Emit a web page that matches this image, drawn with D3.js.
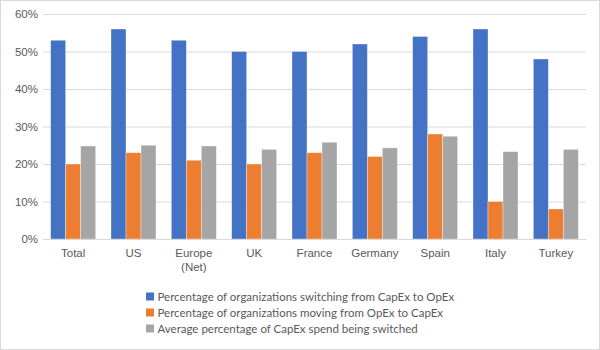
<!DOCTYPE html>
<html><head><meta charset="utf-8">
<script src="https://cdn.jsdelivr.net/npm/d3@7"></script>
<style>body{margin:0;background:#fff;}svg{display:block;font-family:Lato,"Open Sans",sans-serif;}</style>
</head><body><svg id="c" width="600" height="350"></svg>
<script>
const categories = ["Total","US","Europe (Net)","UK","France","Germany","Spain","Italy","Turkey"];
const seriesNames = ["Percentage of organizations switching from CapEx to OpEx","Percentage of organizations moving from OpEx to CapEx","Average percentage of CapEx spend being switched"];
const switchingToOpEx = [53,56,53,50,50,52,54,56,48];
const movingToCapEx = [20,23,21,20,23,22,28,10,8];
const avgSwitched = [24.8,25,24.8,23.9,25.8,24.3,27.4,23.3,23.9];
const yTicks = [0,10,20,30,40,50,60];
const colors = ["#4472C4","#ED7D31","#A5A5A5"];
const series = [switchingToOpEx, movingToCapEx, avgSwitched];

const svg = d3.select("#c");
svg.append("rect").attr("x",0.5).attr("y",0.5).attr("width",599).attr("height",349).attr("fill","#fff").attr("stroke","#d9d9d9");
const L=43,R=586,T=14,B=239;
const x = d3.scaleBand().domain(categories).range([L,R]);
const y = d3.scaleLinear().domain([0,60]).range([B,T]);
const xs = d3.scaleBand().domain([0,1,2]).range([0,45]);

const yAxis = svg.append("g").attr("transform",`translate(${L},0)`)
  .call(d3.axisLeft(y).tickValues(yTicks).tickFormat(d=>d+"%").tickSize(-(R-L)).tickPadding(5));
yAxis.select(".domain").remove();
yAxis.selectAll("line").attr("stroke","#d9d9d9");
yAxis.selectAll("text").attr("fill","#595959").style("font-size","11.5px");

series.forEach((vals,si)=>{
  svg.append("g").selectAll("rect").data(vals).join("rect")
    .attr("x",(d,i)=>x(categories[i])+x.bandwidth()/2-22.5+xs(si))
    .attr("width",xs.bandwidth())
    .attr("y",d=>y(d)).attr("height",d=>B-y(d))
    .attr("fill",colors[si]).attr("stroke","rgba(255,255,255,0.5)").attr("stroke-width",0.7);
});

const xAxis = svg.append("g").attr("transform",`translate(0,${B})`)
  .call(d3.axisBottom(x).tickSize(0).tickPadding(10));
xAxis.select(".domain").attr("stroke","#d9d9d9");
xAxis.selectAll("text").attr("fill","#595959").style("font-size","11.5px")
  .each(function(d){
    const t=d3.select(this); const parts = d.split(" ");
    if(parts.length>1){ t.text(null);
      parts.forEach((p,i)=>t.append("tspan").attr("x",0).attr("dy",i?"1.2em":"0.71em").text(p));
      t.attr("dy",null);
    }
  });

const leg = svg.append("g").attr("transform","translate(146,291)");
seriesNames.forEach((n,i)=>{
  const g = leg.append("g").attr("transform",`translate(0,${i*16})`);
  g.append("rect").attr("width",8).attr("height",8).attr("y",1.5).attr("fill",colors[i]);
  g.append("text").attr("x",11.5).attr("y",9.5).attr("fill","#595959").style("font-size","11.5px").text(n);
});
</script></body></html>
